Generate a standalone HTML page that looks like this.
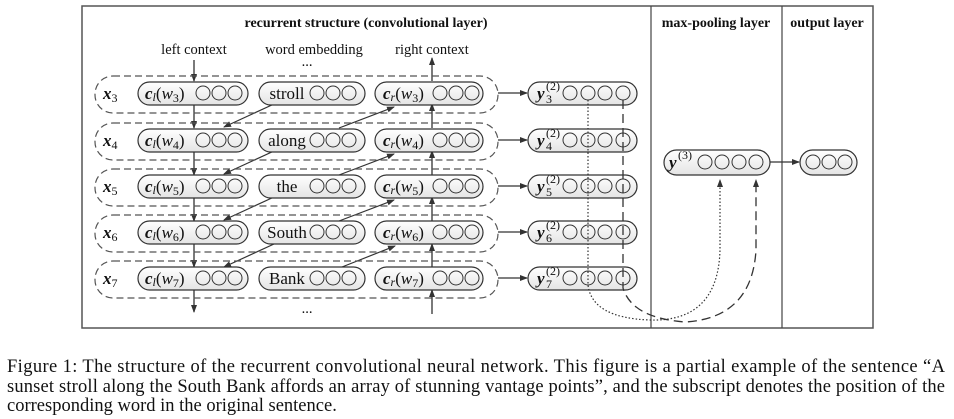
<!DOCTYPE html>
<html><head><meta charset="utf-8"><style>
html,body{margin:0;padding:0;background:#fff;width:954px;height:419px;overflow:hidden}
svg{display:block}
text{font-family:"Liberation Serif",serif;fill:#111}
.b{font-weight:bold;font-style:italic}
.i{font-style:italic}
.s{font-size:12px}
</style></head><body>
<svg width="954" height="419" viewBox="0 0 954 419" xmlns="http://www.w3.org/2000/svg">
<defs>
<marker id="ah" markerWidth="8" markerHeight="8" refX="7" refY="4" orient="auto" markerUnits="userSpaceOnUse">
<path d="M0,1 L8,4 L0,7 Z" fill="#333"/></marker>
<linearGradient id="pg" x1="0" y1="0" x2="0" y2="1"><stop offset="0" stop-color="#fff"/><stop offset="1" stop-color="#e4e4e4"/></linearGradient>
<g id="c3"><circle cx="0" cy="0" r="7" fill="none" stroke="#333" stroke-width="1"/><circle cx="16" cy="0" r="7" fill="none" stroke="#333" stroke-width="1"/><circle cx="32" cy="0" r="7" fill="none" stroke="#333" stroke-width="1"/></g>
<g id="row">
<rect x="95" y="-17" width="403" height="37" rx="18" fill="none" stroke="#555" stroke-width="1.2" stroke-dasharray="7,4"/>
<rect x="138" y="-11" width="110" height="23" rx="11.5" fill="url(#pg)" stroke="#333" stroke-width="1.2"/>
<use href="#c3" x="203" y="0"/>
<rect x="259" y="-11" width="106" height="23" rx="11.5" fill="url(#pg)" stroke="#333" stroke-width="1.2"/>
<use href="#c3" x="317" y="0"/>
<rect x="375" y="-11" width="108" height="23" rx="11.5" fill="url(#pg)" stroke="#333" stroke-width="1.2"/>
<use href="#c3" x="440" y="0"/>
<line x1="498" y1="0" x2="527" y2="0" stroke="#333" stroke-width="1.3" marker-end="url(#ah)"/>
<rect x="528" y="-11" width="109" height="23" rx="11.5" fill="url(#pg)" stroke="#333" stroke-width="1.2"/>
<circle cx="570" cy="0" r="7" fill="none" stroke="#333"/><circle cx="588" cy="0" r="7" fill="none" stroke="#333"/><circle cx="605" cy="0" r="7" fill="none" stroke="#333"/><circle cx="623" cy="0" r="7" fill="none" stroke="#333"/>
</g>
</defs>
<rect x="82" y="6" width="791" height="322" fill="none" stroke="#555" stroke-width="1.5"/>
<line x1="651" y1="6" x2="651" y2="328" stroke="#444" stroke-width="1.2"/>
<line x1="782" y1="6" x2="782" y2="328" stroke="#444" stroke-width="1.2"/>
<g font-weight="bold" font-size="14">
<text x="366" y="27" text-anchor="middle">recurrent structure (convolutional layer)</text>
<text x="716" y="27" text-anchor="middle">max-pooling layer</text>
<text x="827" y="27" text-anchor="middle">output layer</text>
</g>
<g font-size="14.5">
<text x="194" y="54" text-anchor="middle">left context</text>
<text x="314" y="54" text-anchor="middle">word embedding</text>
<text x="432" y="54" text-anchor="middle">right context</text>
<text x="307" y="66" text-anchor="middle">...</text>
<text x="307" y="313" text-anchor="middle">...</text>
</g>
<line x1="194" y1="60" x2="194" y2="81" stroke="#333" stroke-width="1.3" marker-end="url(#ah)"/>
<line x1="194" y1="104" x2="194" y2="128" stroke="#333" stroke-width="1.3" marker-end="url(#ah)"/>
<line x1="194" y1="151" x2="194" y2="175" stroke="#333" stroke-width="1.3" marker-end="url(#ah)"/>
<line x1="194" y1="197" x2="194" y2="221" stroke="#333" stroke-width="1.3" marker-end="url(#ah)"/>
<line x1="194" y1="244" x2="194" y2="267" stroke="#333" stroke-width="1.3" marker-end="url(#ah)"/>
<line x1="194" y1="290" x2="194" y2="312" stroke="#333" stroke-width="1.3" marker-end="url(#ah)"/>
<line x1="432" y1="81" x2="432" y2="58" stroke="#333" stroke-width="1.3" marker-end="url(#ah)"/>
<line x1="432" y1="128" x2="432" y2="104" stroke="#333" stroke-width="1.3" marker-end="url(#ah)"/>
<line x1="432" y1="175" x2="432" y2="151" stroke="#333" stroke-width="1.3" marker-end="url(#ah)"/>
<line x1="432" y1="221" x2="432" y2="197" stroke="#333" stroke-width="1.3" marker-end="url(#ah)"/>
<line x1="432" y1="267" x2="432" y2="244" stroke="#333" stroke-width="1.3" marker-end="url(#ah)"/>
<line x1="432" y1="314" x2="432" y2="290" stroke="#333" stroke-width="1.3" marker-end="url(#ah)"/>
<g stroke="#333" stroke-width="1.2" fill="none" marker-end="url(#ah)">
<line x1="274" y1="104" x2="224" y2="127"/><line x1="274" y1="151" x2="224" y2="174"/><line x1="274" y1="197" x2="224" y2="220"/><line x1="274" y1="244" x2="224" y2="267"/>
<line x1="339" y1="128" x2="394" y2="107"/><line x1="339" y1="175" x2="394" y2="154"/><line x1="339" y1="221" x2="394" y2="200"/><line x1="342" y1="267" x2="395" y2="246"/>
</g>
<use href="#row" y="93"/><use href="#row" y="140"/><use href="#row" y="186"/><use href="#row" y="232"/><use href="#row" y="278"/>
<g font-size="17">
<text x="103" y="99"><tspan class="b">x</tspan><tspan class="s" dy="3">3</tspan></text>
<text x="103" y="146"><tspan class="b">x</tspan><tspan class="s" dy="3">4</tspan></text>
<text x="103" y="192"><tspan class="b">x</tspan><tspan class="s" dy="3">5</tspan></text>
<text x="103" y="238"><tspan class="b">x</tspan><tspan class="s" dy="3">6</tspan></text>
<text x="103" y="284"><tspan class="b">x</tspan><tspan class="s" dy="3">7</tspan></text>

<text x="145" y="99"><tspan class="b">c</tspan><tspan class="i s" dy="2">l</tspan><tspan dy="-2">(</tspan><tspan class="i">w</tspan><tspan class="s" dy="3">3</tspan><tspan dy="-3">)</tspan></text>
<text x="145" y="146"><tspan class="b">c</tspan><tspan class="i s" dy="2">l</tspan><tspan dy="-2">(</tspan><tspan class="i">w</tspan><tspan class="s" dy="3">4</tspan><tspan dy="-3">)</tspan></text>
<text x="145" y="192"><tspan class="b">c</tspan><tspan class="i s" dy="2">l</tspan><tspan dy="-2">(</tspan><tspan class="i">w</tspan><tspan class="s" dy="3">5</tspan><tspan dy="-3">)</tspan></text>
<text x="145" y="238"><tspan class="b">c</tspan><tspan class="i s" dy="2">l</tspan><tspan dy="-2">(</tspan><tspan class="i">w</tspan><tspan class="s" dy="3">6</tspan><tspan dy="-3">)</tspan></text>
<text x="145" y="284"><tspan class="b">c</tspan><tspan class="i s" dy="2">l</tspan><tspan dy="-2">(</tspan><tspan class="i">w</tspan><tspan class="s" dy="3">7</tspan><tspan dy="-3">)</tspan></text>

<text x="383" y="99"><tspan class="b">c</tspan><tspan class="i s" dy="2">r</tspan><tspan dy="-2">(</tspan><tspan class="i">w</tspan><tspan class="s" dy="3">3</tspan><tspan dy="-3">)</tspan></text>
<text x="383" y="146"><tspan class="b">c</tspan><tspan class="i s" dy="2">r</tspan><tspan dy="-2">(</tspan><tspan class="i">w</tspan><tspan class="s" dy="3">4</tspan><tspan dy="-3">)</tspan></text>
<text x="383" y="192"><tspan class="b">c</tspan><tspan class="i s" dy="2">r</tspan><tspan dy="-2">(</tspan><tspan class="i">w</tspan><tspan class="s" dy="3">5</tspan><tspan dy="-3">)</tspan></text>
<text x="383" y="238"><tspan class="b">c</tspan><tspan class="i s" dy="2">r</tspan><tspan dy="-2">(</tspan><tspan class="i">w</tspan><tspan class="s" dy="3">6</tspan><tspan dy="-3">)</tspan></text>
<text x="383" y="284"><tspan class="b">c</tspan><tspan class="i s" dy="2">r</tspan><tspan dy="-2">(</tspan><tspan class="i">w</tspan><tspan class="s" dy="3">7</tspan><tspan dy="-3">)</tspan></text>

<g class="b"><text x="537" y="99">y</text><text x="537" y="146">y</text><text x="537" y="192">y</text><text x="537" y="238">y</text><text x="537" y="284">y</text></g>
<g class="s"><text x="546" y="103">3</text><text x="546" y="150">4</text><text x="546" y="196">5</text><text x="546" y="242">6</text><text x="546" y="288">7</text>
<text x="546" y="90">(2)</text><text x="546" y="137">(2)</text><text x="546" y="183">(2)</text><text x="546" y="229">(2)</text><text x="546" y="275">(2)</text></g>
<g text-anchor="middle"><text x="287" y="99">stroll</text><text x="287" y="146">along</text><text x="287" y="192">the</text><text x="287" y="238">South</text><text x="287" y="284">Bank</text></g>
</g>
<path d="M588,100 V285 Q592,318 650,320 Q718,322 720,250 V180" fill="none" stroke="#333" stroke-width="1.2" stroke-dasharray="1.5,2" marker-end="url(#ah)"/>
<path d="M623,100 V288 Q632,318 685,322 Q752,318 756,250 V180" fill="none" stroke="#333" stroke-width="1.3" stroke-dasharray="9,5" marker-end="url(#ah)"/>
<rect x="664" y="150" width="106" height="25" rx="12.5" fill="url(#pg)" stroke="#333" stroke-width="1.2"/>
<circle cx="705" cy="162" r="7" fill="none" stroke="#333"/><circle cx="722" cy="162" r="7" fill="none" stroke="#333"/><circle cx="739" cy="162" r="7" fill="none" stroke="#333"/><circle cx="756" cy="162" r="7" fill="none" stroke="#333"/>
<text x="669" y="168" font-size="17" class="b">y</text><text x="678" y="159" font-size="12">(3)</text>
<line x1="770" y1="162" x2="799" y2="162" stroke="#333" stroke-width="1.3" marker-end="url(#ah)"/>
<rect x="800" y="150" width="57" height="25" rx="12.5" fill="url(#pg)" stroke="#333" stroke-width="1.2"/>
<use href="#c3" x="813" y="162"/>
<g font-size="18.5">
<text x="7" y="372" textLength="938" lengthAdjust="spacing">Figure 1: The structure of the recurrent convolutional neural network. This figure is a partial example of the sentence “A</text>
<text x="7" y="392" textLength="938" lengthAdjust="spacing">sunset stroll along the South Bank affords an array of stunning vantage points”, and the subscript denotes the position of the</text>
<text x="7" y="411">corresponding word in the original sentence.</text>
</g>
</svg>
</body></html>
